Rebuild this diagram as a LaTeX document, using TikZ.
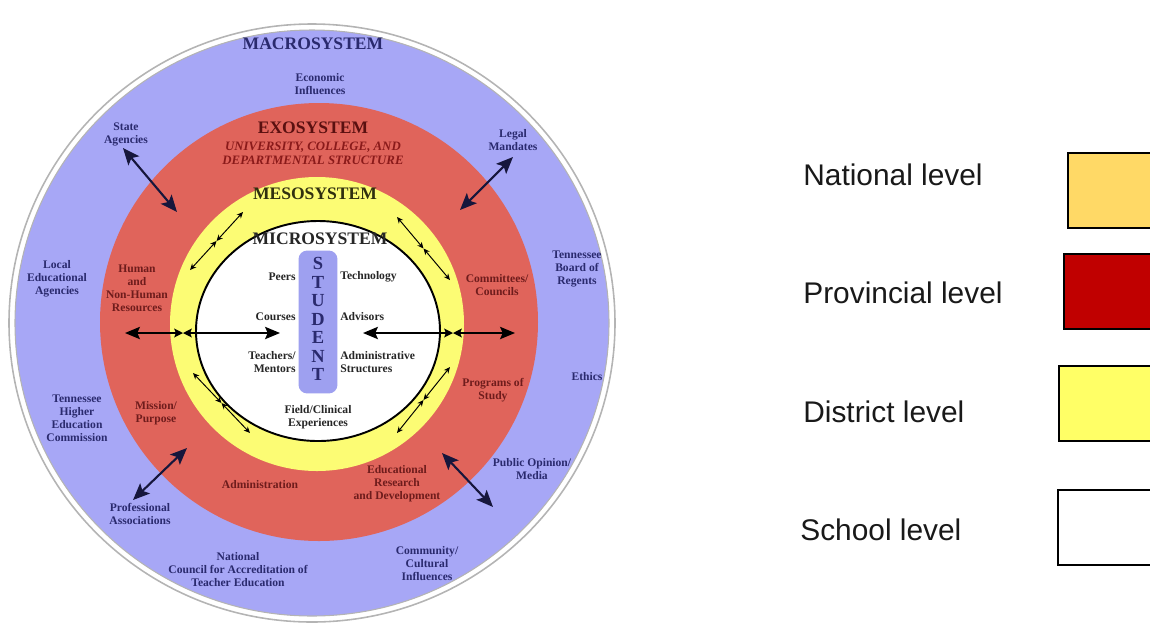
\documentclass[tikz,border=0pt]{standalone}
\usepackage{xcolor}
\usepackage{fontspec}
\setmainfont{Liberation Serif}
\newfontfamily\legendfont{Liberation Sans}
\usepackage{tikz}
\usetikzlibrary{arrows.meta}
\definecolor{Macro}{HTML}{A7A7F6}
\definecolor{Exo}{HTML}{E0645B}
\definecolor{Meso}{HTML}{FCFC74}
\definecolor{Stud}{HTML}{9EA0F0}
\definecolor{Rim}{HTML}{B4B4B4}
\definecolor{Navy}{HTML}{2A2A6E}
\definecolor{Maroon}{HTML}{6E1C1C}
\definecolor{ExoTitle}{HTML}{5A1010}
\definecolor{ExoSub}{HTML}{8A1A1A}
\definecolor{MesoTitle}{HTML}{30300F}
\definecolor{ArrowDark}{HTML}{16163C}
\definecolor{L1}{HTML}{FFD966}
\definecolor{L2}{HTML}{C00000}
\definecolor{L3}{HTML}{FFFF66}
\tikzset{
  lbl/.style={align=center, inner sep=0pt, font=\fontsize{6.6}{7.4}\bfseries\selectfont},
  outer/.style={lbl, text=Navy},
  exo/.style={lbl, text=Maroon},
  micro/.style={lbl, text=black!85},
  title/.style={inner sep=0pt, font=\fontsize{10}{12}\bfseries\selectfont},
  exosub/.style={align=center, inner sep=0pt, text=ExoSub, font=\fontsize{7.3}{8}\bfseries\itshape\selectfont},
  studbox/.style={rectangle, rounded corners=5pt, fill=Stud, minimum width=0.78cm, minimum height=2.86cm},
  studtext/.style={align=center, inner sep=0pt, text=Navy, font=\fontsize{10.5}{10.5}\bfseries\selectfont},
  bigarrow/.style={{Stealth[length=9.5pt, width=8pt, inset=2pt]}-{Stealth[length=9.5pt, width=8pt, inset=2pt]}, line width=1.2pt, ArrowDark},
  hzarrow/.style={{Stealth[length=8.5pt, width=7pt, inset=1.5pt]}-{Stealth[length=5pt, width=5pt, inset=1pt]}, line width=0.9pt, black},
  ringarrow/.style={{Stealth[length=3.6pt, width=3.2pt]}-{Stealth[length=3.6pt, width=3.2pt]}, line width=0.55pt, black},
  legtext/.style={anchor=west, inner sep=0pt, text=black!90, font=\legendfont\fontsize{17}{20}\selectfont},
  legbox/.style={rectangle, anchor=north west, draw=black, line width=1.1pt, minimum width=2cm, minimum height=1.5cm},
}

\begin{document}
\begin{tikzpicture}[x=0.02cm, y=-0.02cm]%
\useasboundingbox (0,0) rectangle (1150,627);%
\clip (0,0) rectangle (1150,627);%
\draw[Rim, line width=0.9pt] (312,323) ellipse [x radius=303, y radius=299];%
\draw[Rim, fill=Macro, line width=0.6pt] (312,323) ellipse [x radius=297, y radius=293];%
\fill[Exo] (319,322) circle [radius=219];%
\fill[Meso] (317,324) circle [radius=147];%
\draw[fill=white, line width=1.1pt] (318,331) ellipse [x radius=122, y radius=110];%
\node[studbox] (studbox) at (318,322) {};%
\node[studtext] (student) at (318,319) {S\\T\\U\\D\\E\\N\\T};%
\node[title, text=Navy] (macro) at (313,44) {MACROSYSTEM};%
\node[title, text=ExoTitle] (exo) at (313,128) {EXOSYSTEM};%
\node[exosub] (exosub) at (313,153) {UNIVERSITY, COLLEGE, AND\\DEPARTMENTAL STRUCTURE};%
\node[title, text=MesoTitle] (meso) at (315,194) {MESOSYSTEM};%
\node[title, text=black!85] (micro) at (320,239) {MICROSYSTEM};%
\node[outer] (econ) at (320,84) {Economic\\Influences};%
\node[outer] (stateag) at (126,134) {State\\Agencies};%
\node[outer] (legal) at (513,140) {Legal\\Mandates};%
\node[outer] (localed) at (57,279) {Local\\Educational\\Agencies};%
\node[outer] (tbr) at (577,269) {Tennessee\\Board of\\Regents};%
\node[outer] (ethics) at (587,377) {Ethics};%
\node[outer] (thec) at (77,418) {Tennessee\\Higher\\Education\\Commission};%
\node[outer] (public) at (532,469) {Public Opinion/\\Media};%
\node[outer] (profas) at (140,514) {Professional\\Associations};%
\node[outer] (ncate) at (238,570) {National\\Council for Accreditation of\\Teacher Education};%
\node[outer] (comm) at (427,564) {Community/\\Cultural\\Influences};%
\node[exo] (human) at (137,288) {Human\\and\\Non-Human\\Resources};%
\node[exo] (committees) at (497,285) {Committees/\\Councils};%
\node[exo] (mission) at (156,413) {Mission/\\Purpose};%
\node[exo] (programs) at (493,390) {Programs of\\Study};%
\node[exo] (admin) at (260,485) {Administration};%
\node[exo] (erd) at (397,484) {Educational\\Research\\and Development};%
\node[micro, anchor=east] (peers) at (296,277) {Peers};%
\node[micro, anchor=west] (tech) at (340,277) {Technology};%
\node[micro, anchor=east] (courses) at (296,317) {Courses};%
\node[micro, anchor=west] (advisors) at (340,317) {Advisors};%
\node[micro, anchor=east, align=right] (teachers) at (296,362) {Teachers/\\Mentors};%
\node[micro, anchor=west, align=left] (adminstr) at (340,362) {Administrative\\Structures};%
\node[micro] (field) at (318,417) {Field/Clinical\\Experiences};%
\coordinate (sa1) at (123,148);%
\coordinate (sa2) at (177,212);%
\coordinate (lm1) at (513,157);%
\coordinate (lm2) at (460,210);%
\coordinate (pa1) at (133,500);%
\coordinate (pa2) at (187,448);%
\coordinate (po1) at (493,507);%
\coordinate (po2) at (442,453);%
\draw[bigarrow] (sa1) -- (sa2);%
\draw[bigarrow] (lm1) -- (lm2);%
\draw[bigarrow] (pa1) -- (pa2);%
\draw[bigarrow] (po1) -- (po2);%
\coordinate (lo) at (125,333);%
\coordinate (lm) at (183,333);%
\coordinate (li) at (280,333);%
\coordinate (ri) at (363,333);%
\coordinate (rm) at (453,333);%
\coordinate (ro) at (515,333);%
\draw[hzarrow] (lo) -- (lm);%
\draw[hzarrow] (li) -- (lm);%
\draw[hzarrow] (ri) -- (rm);%
\draw[hzarrow] (ro) -- (rm);%
\coordinate (ula) at (190,270);%
\coordinate (ulm) at (216.5,241);%
\coordinate (ulb) at (243,212);%
\coordinate (ura) at (397,217);%
\coordinate (urm) at (423.5,248.5);%
\coordinate (urb) at (450,280);%
\coordinate (lla) at (193,373);%
\coordinate (llm) at (221.5,403);%
\coordinate (llb) at (250,433);%
\coordinate (lra) at (450,367);%
\coordinate (lrm) at (423.5,400);%
\coordinate (lrb) at (397,433);%
\draw[ringarrow] (ula) -- (ulm);%
\draw[ringarrow] (ulb) -- (ulm);%
\draw[ringarrow] (ura) -- (urm);%
\draw[ringarrow] (urb) -- (urm);%
\draw[ringarrow] (lla) -- (llm);%
\draw[ringarrow] (llb) -- (llm);%
\draw[ringarrow] (lra) -- (lrm);%
\draw[ringarrow] (lrb) -- (lrm);%
\node[legtext] (natl) at (803,175) {National level};%
\node[legtext] (prov) at (803,293) {Provincial level};%
\node[legtext] (dist) at (803,412) {District level};%
\node[legtext] (school) at (800,530) {School level};%
\node[legbox, fill=L1] (natbox) at (1067,152) {};%
\node[legbox, fill=L2] (provbox) at (1063,253) {};%
\node[legbox, fill=L3] (distbox) at (1058,365) {};%
\node[legbox, fill=white] (schoolbox) at (1057,489) {};%
\end{tikzpicture}
\end{document}
